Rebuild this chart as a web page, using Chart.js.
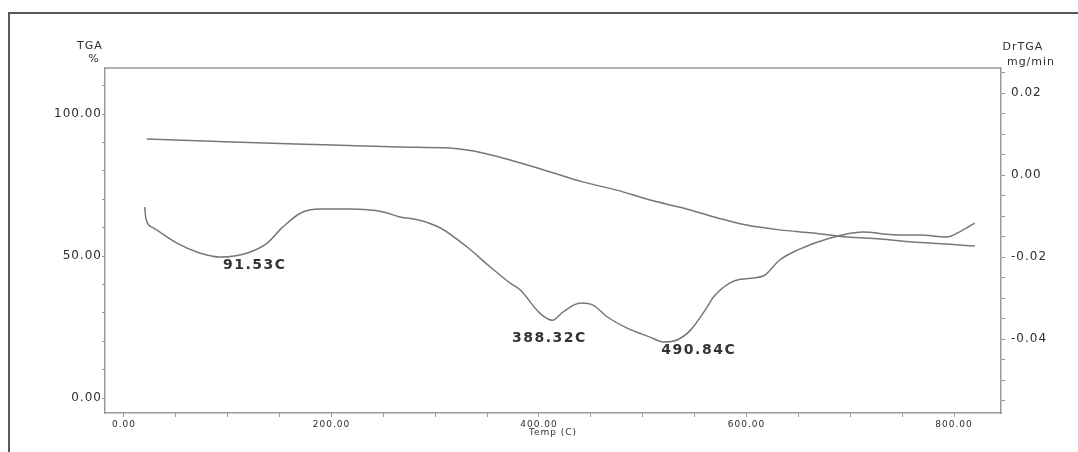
<!DOCTYPE html>
<html>
<head>
<meta charset="utf-8">
<script src="https://cdn.jsdelivr.net/npm/chart.js@4/dist/chart.umd.min.js"></script>
<style>
  html, body { margin: 0; padding: 0; background: #fff; }
  #wrap { position: absolute; left: 0; top: 0; width: 1078px; height: 452px; }
</style>
</head>
<body>
<div id="wrap"><canvas id="chart" width="1078" height="452"></canvas></div>
<script>
// ── DATA ──
// TGA curve (left axis, %)
const tgaTemp = [22, 105, 201, 266, 314, 346, 379, 411, 442, 475, 507, 539, 572, 600, 632, 664, 697, 729, 760, 793, 820]
const tgaPct  = [91.2, 90.1, 89.1, 88.4, 88.0, 86.3, 83.1, 79.6, 76.1, 73.2, 69.7, 66.9, 63.4, 60.9, 59.2, 58.1, 56.7, 56.0, 54.9, 54.2, 53.5]

// DrTGA curve (right axis, mg/min)
const drTemp = [20, 21, 28, 51, 73, 93, 119, 138, 153, 170, 189, 218, 250, 266, 285, 305, 331, 353, 372, 382, 401, 413, 423, 440, 452, 466, 485, 507, 520, 533, 546, 562, 568, 584, 594, 616, 632, 649, 680, 712, 745, 767, 793, 805, 820]
const drVal  = [-0.0078, -0.0105, -0.0128, -0.0166, -0.0190, -0.0200, -0.0190, -0.0166, -0.0127, -0.0093, -0.0083, -0.0083, -0.0090, -0.0102, -0.0110, -0.0129, -0.0176, -0.0224, -0.0263, -0.0280, -0.0337, -0.0354, -0.0334, -0.0312, -0.0317, -0.0346, -0.0373, -0.0395, -0.0407, -0.0402, -0.0378, -0.0322, -0.0298, -0.0263, -0.0254, -0.0246, -0.0207, -0.0183, -0.0154, -0.0139, -0.0146, -0.0146, -0.0151, -0.0139, -0.0117]

// peak annotations (text anchor in data units: temp, DrTGA)
const peakText = ['91.53C', '388.32C', '490.84C']
const peakTemp = [126, 410, 554]
const peakDr   = [-0.0220, -0.0397, -0.0427]

// axis ticks
const tempTicks = [0, 200, 400, 600, 800]
const tgaTicks  = [0, 50, 100]
const drTicks   = [-0.04, -0.02, 0, 0.02]

// ── HELPERS ──
const LINE = '#777'
const AXIS = '#999'
const TEXT = '#2e2e2e'
const FONT = 'DejaVu Sans'

function range(from, to, step) {
  const out = []
  const n = Math.round((to - from) / step)
  for (let i = 0; i <= n; i++) out.push(+(from + i * step).toFixed(6))
  return out
}
const isMajor = (list, v) => list.some(m => Math.abs(m - v) < 1e-9)

// ── DECOR ──
const decor = {
  id: 'decor',
  beforeDraw(chart) {
    chart.ctx.letterSpacing = '1px'
  },
  afterDraw(chart) {
    const { ctx, chartArea: a, scales } = chart
    ctx.save()
    // outer frame
    ctx.strokeStyle = '#5a5a5a'
    ctx.lineWidth = 2
    ctx.beginPath()
    ctx.moveTo(9, 452); ctx.lineTo(9, 13); ctx.lineTo(1078, 13)
    ctx.stroke()
    // top of plot box
    ctx.strokeStyle = AXIS
    ctx.lineWidth = 1.5
    ctx.beginPath()
    ctx.moveTo(a.left, a.top); ctx.lineTo(a.right, a.top)
    ctx.stroke()
    // axis titles
    ctx.fillStyle = TEXT
    ctx.textAlign = 'center'
    ctx.textBaseline = 'middle'
    ctx.letterSpacing = '1px'
    ctx.font = `11px "${FONT}"`
    ctx.fillText('TGA', 90, 46)
    ctx.fillText('%', 94, 59)
    ctx.fillText('DrTGA', 1023, 47)
    ctx.fillText('mg/min', 1031, 62)
    // peak labels
    ctx.letterSpacing = '1.5px'
    ctx.font = `bold 14px "${FONT}"`
    ctx.fillStyle = '#333'
    peakText.forEach((t, i) => {
      ctx.fillText(t, scales.x.getPixelForValue(peakTemp[i]), scales.y1.getPixelForValue(peakDr[i]))
    })
    ctx.restore()
  }
}

// ── CHART ──
new Chart(document.getElementById('chart'), {
  type: 'line',
  data: {
    datasets: [
      {
        data: tgaTemp.map((t, i) => ({ x: t, y: tgaPct[i] })),
        yAxisID: 'y',
        borderColor: LINE,
        borderWidth: 1.5,
        pointRadius: 0,
        cubicInterpolationMode: 'monotone'
      },
      {
        data: drTemp.map((t, i) => ({ x: t, y: drVal[i] })),
        yAxisID: 'y1',
        borderColor: LINE,
        borderWidth: 1.5,
        pointRadius: 0,
        cubicInterpolationMode: 'monotone'
      }
    ]
  },
  options: {
    responsive: false,
    animation: false,
    layout: { padding: { top: 68, left: 0, right: 0, bottom: 0 } },
    plugins: { legend: { display: false }, tooltip: { enabled: false } },
    scales: {
      x: {
        type: 'linear',
        min: -18.3,
        max: 845.3,
        afterBuildTicks: s => { s.ticks = range(0, 800, 50).map(v => ({ value: v })) },
        afterFit: s => { s.height = 39 },
        ticks: {
          autoSkip: false,
          maxRotation: 0,
          padding: 2,
          color: TEXT,
          font: { family: FONT, size: 9 },
          callback: v => isMajor(tempTicks, v) ? v.toFixed(2) : ''
        },
        grid: { drawOnChartArea: false, tickLength: 4, tickColor: AXIS },
        border: { color: AXIS, width: 1.5 },
        title: {
          display: true,
          text: 'Temp (C)',
          color: TEXT,
          font: { family: FONT, size: 9 },
          padding: { top: 0, bottom: 14 }
        }
      },
      y: {
        position: 'left',
        min: -5.28,
        max: 116.2,
        afterBuildTicks: s => { s.ticks = range(0, 110, 10).map(v => ({ value: v })) },
        afterFit: s => { s.width = 105 },
        ticks: {
          autoSkip: false,
          padding: 0,
          color: TEXT,
          font: { family: FONT, size: 12 },
          callback: v => isMajor(tgaTicks, v) ? v.toFixed(2) : ''
        },
        grid: { drawOnChartArea: false, tickLength: 3, tickColor: AXIS },
        border: { color: AXIS, width: 1.5 }
      },
      y1: {
        position: 'right',
        min: -0.058,
        max: 0.0261,
        afterBuildTicks: s => { s.ticks = range(-0.055, 0.025, 0.005).map(v => ({ value: v })) },
        afterFit: s => { s.width = 77 },
        ticks: {
          autoSkip: false,
          padding: 6,
          color: TEXT,
          font: { family: FONT, size: 12 },
          callback: v => isMajor(drTicks, v) ? v.toFixed(2) : ''
        },
        grid: { drawOnChartArea: false, tickLength: 4, tickColor: AXIS },
        border: { color: AXIS, width: 1.5 }
      }
    }
  },
  plugins: [decor]
})
</script>
</body>
</html>
